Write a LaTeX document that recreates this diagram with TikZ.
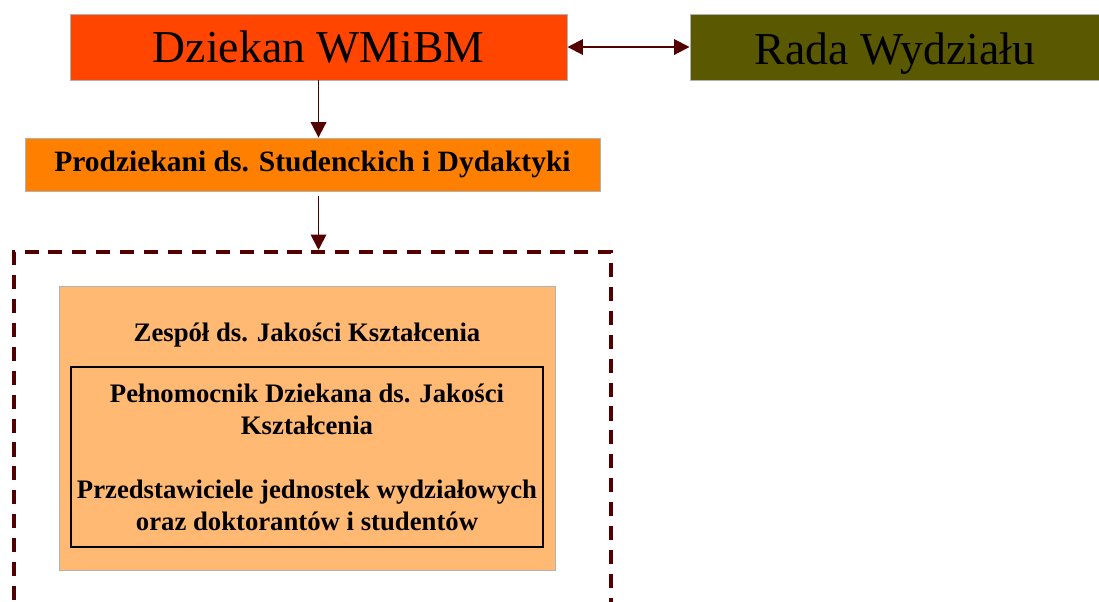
\documentclass[tikz,border=0pt]{standalone}
\usepackage{fontspec}
\setmainfont{Liberation Serif}
\usetikzlibrary{arrows.meta}
\usetikzlibrary{positioning}
\definecolor{dziekanred}{RGB}{255,69,0}
\definecolor{radaolive}{RGB}{90,88,0}
\definecolor{prodorange}{RGB}{255,128,0}
\definecolor{zespolorange}{RGB}{255,185,115}
\definecolor{bordo}{RGB}{85,0,0}
\tikzset{
  kasten/.style={draw=gray!60, line width=0.6pt, inner sep=0pt},
  pfeil/.style={bordo, line width=1.4pt, -{Triangle[length=11pt,width=11pt]}},
  duzy/.style={font=\fontsize{32.5}{38}\selectfont},
  sredni/.style={font=\bfseries\fontsize{19}{22.8}\selectfont, align=center},
}
\begin{document}
\begin{tikzpicture}[x=0.025cm,y=-0.025cm] % Pixelkoordinaten
\clip (0,0) rectangle (1099,601);
% Dziekan i Rada Wydziału
\node[kasten, fill=dziekanred, duzy, minimum width=12.425cm, minimum height=1.65cm] (dziekan) at (318.5,47) {Dziekan WMiBM};
\node[kasten, fill=radaolive, duzy, minimum width=10.25cm, minimum height=1.65cm] (rada) at (895,47) {\raisebox{-5pt}[\height][\depth]{Rada Wydziału}};
% Prodziekani
\node[kasten, fill=prodorange, font=\bfseries\fontsize{21}{25}\selectfont, minimum width=14.375cm, minimum height=1.325cm] (prodziekani) at (312.5,164.5) {Prodziekani ds. Studenckich i Dydaktyki};
% ramka przerywana
\node[draw=bordo, line width=2.8pt, dash pattern=on 10pt off 7pt, minimum width=14.925cm, minimum height=10.2cm] (ramka) at (312.5,456) {};
% Zespół ds. Jakości Kształcenia
\node[kasten, fill=zespolorange, minimum width=12.4cm, minimum height=7.1cm] (zespol) at (307,428) {};
\node[sredni] (zespoltytul) at (307,335) {Zespół ds. Jakości Kształcenia};
\node[draw=black, line width=1.4pt, sredni, minimum width=11.8cm, minimum height=4.5cm] (pelnomocnik) at (307,457)
  {Pełnomocnik Dziekana ds. Jakości\\ Kształcenia\\[22.8pt] Przedstawiciele jednostek wydziałowych\\ oraz doktorantów i studentów};
% strzałki
\draw[pfeil, {Triangle[length=11pt,width=11pt]}-{Triangle[length=11pt,width=11pt]}] (dziekan.east) -- (rada.west);
\draw[pfeil] (dziekan.south) -- (dziekan.south |- prodziekani.north);
\draw[pfeil, shorten <=3pt] (dziekan.south |- prodziekani.south) -- (dziekan.south |- ramka.north);
\end{tikzpicture}
\end{document}
